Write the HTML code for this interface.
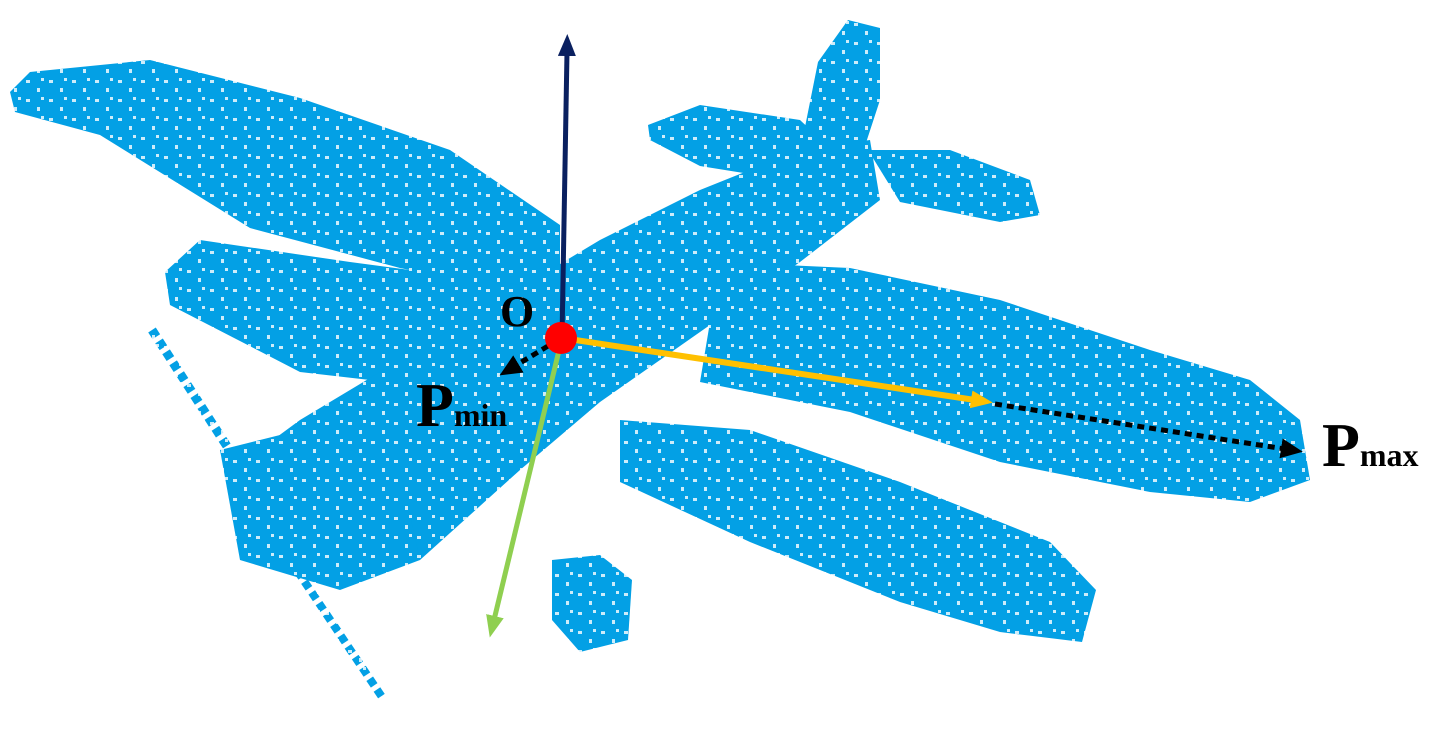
<!DOCTYPE html>
<html><head><meta charset="utf-8"><style>
html,body{margin:0;padding:0;background:#fff}
svg{display:block}
text{font-family:"Liberation Serif",serif;font-weight:bold;fill:#000}
</style></head><body>
<svg width="1456" height="729" viewBox="0 0 1456 729">
<defs>
<pattern id="spk" width="23" height="19" patternUnits="userSpaceOnUse">
<rect x="3" y="4" width="4" height="3" fill="#fff"/><rect x="14" y="12" width="3" height="4" fill="#fff"/><rect x="18" y="2" width="3" height="3" fill="#fff"/>
</pattern>
<marker id="ahB" markerWidth="22" markerHeight="18" refX="4" refY="9" orient="auto" markerUnits="userSpaceOnUse"><path d="M0,0 L22,9 L0,18 z" fill="#0a2060"/></marker>
<marker id="ahG" markerWidth="22" markerHeight="18" refX="4" refY="9" orient="auto" markerUnits="userSpaceOnUse"><path d="M0,0 L22,9 L0,18 z" fill="#8fcf50"/></marker>
<marker id="ahO" markerWidth="22" markerHeight="18" refX="4" refY="9" orient="auto" markerUnits="userSpaceOnUse"><path d="M0,0 L22,9 L0,18 z" fill="#ffc000"/></marker>
<marker id="ahK" markerWidth="22" markerHeight="20" refX="4" refY="10" orient="auto" markerUnits="userSpaceOnUse"><path d="M0,0 L22,10 L0,20 z" fill="#000"/></marker>
</defs>
<g fill="#03a0e5">
<polygon points="10,92 30,72 150,60 300,98 450,150 560,225 560,300 400,268 250,228 100,135 15,112"/>
<polygon points="165,272 200,240 350,262 560,290 545,400 300,372 170,305"/>
<polygon points="232,470 300,420 450,330 600,240 700,190 800,150 870,140 880,200 800,262 700,332 600,402 520,470 420,560 300,565 240,530"/>
<polygon points="800,152 818,62 848,20 880,28 880,100 862,155"/>
<polygon points="648,125 700,105 800,120 832,150 800,182 700,166 650,140"/>
<polygon points="868,150 950,150 1030,180 1040,215 1000,222 900,202"/>
<polygon points="720,262 850,268 1000,300 1150,350 1250,380 1300,420 1310,480 1250,502 1150,492 1000,462 850,412 700,382"/>
<polygon points="620,420 750,430 900,482 1050,542 1096,590 1082,642 1000,632 900,602 750,542 620,482"/>
<polygon points="552,560 600,555 632,580 628,640 580,652 552,620"/>
<polygon points="220,450 300,430 400,470 420,560 340,590 240,560"/>
<line x1="152" y1="330" x2="250" y2="482" stroke="#03a0e5" stroke-width="9" stroke-dasharray="8 5"/>
<line x1="290" y1="560" x2="384" y2="700" stroke="#03a0e5" stroke-width="8" stroke-dasharray="8 5"/>
</g>
<rect x="0" y="0" width="1456" height="729" fill="url(#spk)" opacity="0.8"/>
<line x1="562" y1="338" x2="567" y2="52" stroke="#0a2060" stroke-width="5" marker-end="url(#ahB)"/>
<line x1="562" y1="338" x2="494" y2="620" stroke="#8fcf50" stroke-width="5" marker-end="url(#ahG)"/>
<line x1="562" y1="338" x2="975" y2="400" stroke="#ffc000" stroke-width="6" marker-end="url(#ahO)"/>
<line x1="995" y1="404" x2="1285" y2="449" stroke="#000" stroke-width="5" stroke-dasharray="7 5" marker-end="url(#ahK)"/>
<line x1="548" y1="346" x2="515" y2="366" stroke="#000" stroke-width="5" stroke-dasharray="7 5" marker-end="url(#ahK)"/>
<circle cx="561" cy="338" r="16" fill="#ff0000"/>
<text x="500" y="326" font-size="44">O</text>
<text x="416" y="426" font-size="62">P<tspan font-size="32">min</tspan></text>
<text x="1322" y="466" font-size="62">P<tspan font-size="32">max</tspan></text>
</svg>
</body></html>
